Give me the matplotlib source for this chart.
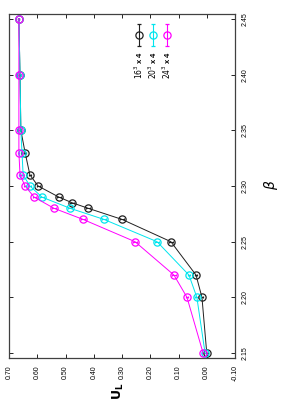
import matplotlib.pyplot as plt

# beta values and Binder cumulant U_L for each lattice
beta16 = [2.15, 2.20, 2.22, 2.25, 2.27, 2.28, 2.285, 2.29, 2.30, 2.31, 2.33, 2.35, 2.40, 2.45]
U16 = [0.000, 0.017, 0.038, 0.127, 0.300, 0.420, 0.477, 0.523, 0.597, 0.626, 0.643, 0.658, 0.661, 0.665]
err16 = [0.004, 0.004, 0.005, 0.006, 0.007, 0.007, 0.006, 0.006, 0.005, 0.004, 0.003, 0.002, 0.002, 0.002]

beta20 = [2.15, 2.20, 2.22, 2.25, 2.27, 2.28, 2.29, 2.30, 2.31, 2.33, 2.35, 2.40, 2.45]
U20 = [0.006, 0.035, 0.063, 0.176, 0.364, 0.484, 0.583, 0.626, 0.650, 0.654, 0.658, 0.661, 0.665]
err20 = [0.004, 0.005, 0.005, 0.006, 0.007, 0.007, 0.006, 0.005, 0.004, 0.003, 0.002, 0.002, 0.002]

beta24 = [2.15, 2.20, 2.22, 2.25, 2.27, 2.28, 2.29, 2.30, 2.31, 2.33, 2.35, 2.40, 2.45]
U24 = [0.013, 0.070, 0.116, 0.254, 0.438, 0.541, 0.611, 0.643, 0.661, 0.665, 0.665, 0.665, 0.665]
err24 = [0.004, 0.005, 0.006, 0.007, 0.007, 0.006, 0.005, 0.004, 0.003, 0.002, 0.002, 0.002, 0.002]

series = [(beta16, U16, err16, "#202020", r"$16^3$ x 4"),
          (beta20, U20, err20, "#00e5ee", r"$20^3$ x 4"),
          (beta24, U24, err24, "#ff00ff", r"$24^3$ x 4")]

u_ticks = [0.70, 0.60, 0.50, 0.40, 0.30, 0.20, 0.10, 0.00, -0.10]
b_ticks = [2.15, 2.20, 2.25, 2.30, 2.35, 2.40, 2.45]

plt.rcParams['font.family'] = ['Liberation Sans', 'DejaVu Sans']
fig = plt.figure(figsize=(2.83, 4.03), dpi=100)
# whole gnuplot plot is turned by 90 degrees: U_L runs along the bottom, beta up the right side
ax = fig.add_axes([9/283, 1 - 358/403, 226/283, 344/403])

for b, u, e, c, lab in series:
    ax.errorbar(u, b, xerr=e, color=c, lw=0.7, marker='o', ms=5.2, mfc='none',
                mec=c, mew=0.9, elinewidth=0.7, capsize=1.0)

ax.set_xlim(0.70, -0.10)
ax.set_ylim(2.1455, 2.4545)
ax.set_xticks(u_ticks)
ax.set_xticklabels(["%.2f" % t for t in u_ticks], rotation=90, fontsize=5, va='top')
ax.set_yticks(b_ticks)
ax.set_yticklabels(["%.2f" % t for t in b_ticks], rotation=90, fontsize=5, va='center')
ax.yaxis.tick_right()
ax.tick_params(direction='in', length=3, width=0.6, top=True, left=True, right=True, bottom=True,
               labelleft=False, labelright=True, pad=5)
for s in ax.spines.values():
    s.set_linewidth(0.9)
    s.set_color("#404040")

# hand made key, rotated like the rest
for i, (b, u, e, c, lab) in enumerate(series):
    x = 0.575 + i * 0.062
    ax.errorbar([x], [0.939], yerr=[0.033], transform=ax.transAxes, color=c, marker='o', ms=5.2,
                mfc='none', mec=c, mew=0.9, elinewidth=0.8, capsize=1.5, clip_on=False)
    ax.text(x, 0.893, lab, transform=ax.transAxes, rotation=90, ha='center', va='top',
            fontsize=5.5, fontweight='bold')

fig.text(271/283, 1 - 185/403, r"$\beta$", rotation=90, ha='center', va='center', fontsize=10)
fig.text(118/283, 1 - 391/403, r"$\mathbf{U_L}$", rotation=90, ha='center', va='center', fontsize=9)

fig.savefig("out.png", dpi=100)
